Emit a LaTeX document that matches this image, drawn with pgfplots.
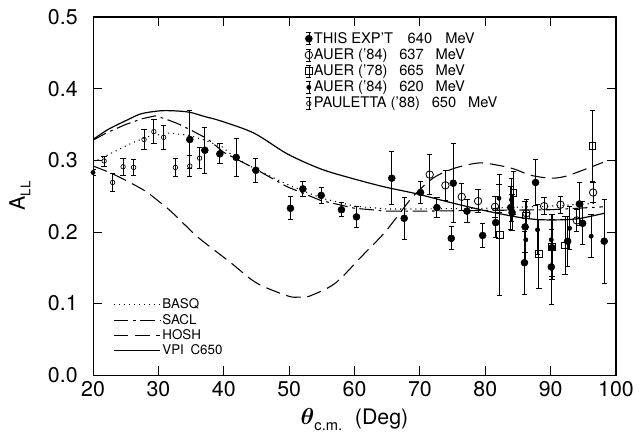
\documentclass[border=0pt]{standalone}
\usepackage{fontspec}
\setmainfont{TeX Gyre Heros}
\usepackage{pgfplots}
\pgfplotsset{compat=1.18}
\usepackage{pgfplotstable}
\usetikzlibrary{calc}

% THIS EXP'T 640 MeV (filled circles)
\pgfplotstableread{
x y e
34.8 0.329 0.040
37.1 0.314 0.032
39.4 0.309 0.014
41.9 0.304 0.027
44.9 0.286 0.017
50.2 0.233 0.016
52.1 0.260 0.011
54.9 0.251 0.011
58.0 0.231 0.010
60.3 0.221 0.015
65.7 0.275 0.037
67.6 0.219 0.029
70.1 0.255 0.015
72.6 0.234 0.014
75.1 0.268 0.055
74.8 0.191 0.016
77.2 0.229 0.016
79.6 0.195 0.017
81.6 0.213 0.020
83.9 0.234 0.030
84.1 0.227 0.025
86.0 0.157 0.044
86.1 0.207 0.035
87.7 0.269 0.032
90.1 0.151 0.052
90.2 0.178 0.040
92.6 0.187 0.035
94.4 0.239 0.030
94.9 0.212 0.030
98.2 0.187 0.059
}\thisexpt

% AUER ('84) 637 MeV (open circles)
\pgfplotstableread{
x y e
71.5 0.280 0.028
73.9 0.265 0.021
76.4 0.249 0.019
78.9 0.243 0.016
81.5 0.235 0.015
86.3 0.226 0.020
89.0 0.236 0.012
91.5 0.238 0.012
94.0 0.216 0.015
96.5 0.255 0.014
}\auerA

% AUER ('78) 665 MeV (open squares)
\pgfplotstableread{
x y e
82.2 0.196 0.084
84.3 0.254 0.030
86.2 0.223 0.020
88.2 0.169 0.048
90.2 0.179 0.045
92.2 0.181 0.040
96.4 0.320 0.050
}\auerB

% AUER ('84) 620 MeV (small filled)
\pgfplotstableread{
x y e
20.0 0.283 0.004
82.1 0.247 0.020
84.0 0.245 0.030
86.2 0.189 0.030
88.0 0.203 0.035
90.1 0.189 0.035
92.9 0.205 0.030
96.2 0.194 0.030
}\auerC

% PAULETTA ('88) 650 MeV (small open)
\pgfplotstableread{
x y e
21.7 0.299 0.007
23.0 0.269 0.012
24.6 0.291 0.012
26.2 0.290 0.011
27.8 0.329 0.014
29.3 0.340 0.017
30.8 0.332 0.017
32.6 0.290 0.012
34.8 0.292 0.015
36.3 0.303 0.015
}\pauletta

\pgfplotsset{
  common/.style={
    width=392pt, height=268.5pt, scale only axis,
    xmin=20, xmax=100, ymin=0, ymax=0.5,
  },
  databar/.style={
    only marks, black,
    error bars/y dir=both, error bars/y explicit,
    error bars/error bar style={line width=0.6pt, black},
    error bars/error mark options={rotate=90, mark size=2pt, line width=0.6pt, black, solid},
  },
}

\begin{document}
\begin{tikzpicture}
\begin{axis}[common,
  axis line style={line width=0.8pt},
  xtick={20,30,40,50,60,70,80,90,100},
  ytick={0,0.1,0.2,0.3,0.4,0.5},
  tick align=inside, major tick length=7pt,
  tick style={line width=0.6pt, black},
  ticklabel style={font=\fontsize{16}{16}\selectfont},
  /pgf/number format/assume math mode=true,
  y tick label style={/pgf/number format/.cd, fixed, fixed zerofill, precision=1, /tikz/.cd, xshift=-8pt},
  x tick label style={yshift=-1pt},
  xlabel={{\boldmath$\theta$}\raisebox{-0.6ex}{\fontsize{11}{11}\selectfont c.m.}\hspace{0.6em}(Deg)},
  xlabel style={font=\fontsize{16}{16}\selectfont, at={(axis description cs:0.5,-0.124)}, anchor=center},
  ylabel={A\raisebox{-0.5ex}{\fontsize{10}{10}\selectfont LL}},
  ylabel style={font=\fontsize{16}{16}\selectfont, at={(axis description cs:-0.14,0.5)}, anchor=center},
  legend style={at={(axis cs:23.0,0.109)}, anchor=north west, draw=none, fill=none,
    font=\fontsize{10}{10}\selectfont, row sep=0pt, inner sep=0pt,
    nodes={inner sep=1.2pt}},
  legend cell align=left,
  legend image code/.code={\draw[#1] (0pt,0pt)--(35pt,0pt);},
]
\addplot[black, line width=0.8pt, dash pattern=on 0.8pt off 3pt] coordinates {
(20,0.297)(22.8,0.310)(25.9,0.324)(28.4,0.333)(31.5,0.338)(34.6,0.335)(37.1,0.328)(39.7,0.319)(42,0.302)(45,0.287)(50,0.265)(55,0.247)(60,0.236)(65,0.232)(70,0.232)(80,0.233)(90,0.236)(97,0.240)};
\addlegendentry{BASQ}
\addplot[black, line width=0.8pt, dash pattern=on 11pt off 3.5pt on 2pt off 3.5pt] coordinates {
(20,0.328)(22,0.338)(25,0.350)(27.5,0.358)(29.5,0.362)(31,0.358)(33,0.351)(35,0.342)(37.5,0.330)(40,0.311)(44.6,0.289)(49.7,0.263)(54.8,0.244)(60,0.233)(65,0.229)(70,0.229)(80,0.230)(90,0.231)(98,0.235)};
\addlegendentry{SACL}
\addplot[black, line width=0.8pt, dash pattern=on 11pt off 5pt, smooth] coordinates {
(20,0.292)(22.5,0.283)(25,0.272)(28,0.257)(30,0.243)(32,0.228)(35.5,0.197)(37.5,0.182)(41.2,0.156)(44,0.135)(46,0.124)(50,0.110)(51.5,0.109)(53,0.110)(57,0.128)(61,0.165)(64.5,0.198)(67,0.227)(69,0.250)(72,0.275)(75,0.288)(78,0.295)(80,0.296)(84,0.289)(87,0.279)(90,0.275)(92,0.277)(94,0.283)(98,0.297)};
\addlegendentry{HOSH}
\addplot[black, line width=0.9pt, smooth] coordinates {
(20,0.329)(22.3,0.343)(25.4,0.357)(27.4,0.365)(30.2,0.369)(32.5,0.369)(34.8,0.367)(37.1,0.361)(39.5,0.355)(44.6,0.338)(49.7,0.309)(54.8,0.288)(59.5,0.275)(64.5,0.263)(69.6,0.253)(74.7,0.241)(80.3,0.229)(85.4,0.220)(88.5,0.217)(92.1,0.217)(94.6,0.219)(98.2,0.226)};
\addlegendentry{VPI\hspace{0.5em}C650}
\end{axis}

\begin{axis}[common, hide axis,
  legend style={at={(axis cs:52.4,0.481)}, anchor=north west, draw=none, fill=none,
    font=\fontsize{11}{11}\selectfont, row sep=0.6pt, inner sep=0pt,
    nodes={inner sep=1pt}},
  legend cell align=left,
  legend image code/.code={
    \draw[black, line width=0.5pt] (0pt,-4.5pt)--(0pt,4.5pt) (-1.8pt,-4.5pt)--(1.8pt,-4.5pt) (-1.8pt,4.5pt)--(1.8pt,4.5pt);
    \draw[#1, only marks] plot coordinates {(0pt,0pt)};},
]
\addplot[databar, mark=*, mark size=2.6pt] table[x=x, y=y, y error=e] {\thisexpt};
\addlegendentry{THIS EXP'T\hspace{1em}640\hspace{0.9em}MeV}
\addplot[databar, mark=o, mark size=2.8pt, mark options={fill=white, line width=0.6pt}] table[x=x, y=y, y error=e] {\auerA};
\addlegendentry{AUER ('84)\hspace{0.8em}637\hspace{0.8em}MeV}
\addplot[databar, mark=square, mark size=2.5pt, mark options={fill=white, line width=0.6pt}] table[x=x, y=y, y error=e] {\auerB};
\addlegendentry{AUER ('78)\hspace{0.8em}665\hspace{0.8em}MeV}
\addplot[databar, mark=*, mark size=1.6pt] table[x=x, y=y, y error=e] {\auerC};
\addlegendentry{AUER ('84)\hspace{0.8em}620\hspace{0.8em}MeV}
\addplot[databar, mark=o, mark size=1.7pt, mark options={fill=white, line width=0.5pt}] table[x=x, y=y, y error=e] {\pauletta};
\addlegendentry{PAULETTA ('88)\hspace{0.8em}650\hspace{0.8em}MeV}
\end{axis}
\pgfresetboundingbox
\path ($(current axis.south west)+(-69.75pt,-42.75pt)$) rectangle ($(current axis.north east)+(18pt,12.75pt)$);
\end{tikzpicture}
\end{document}
